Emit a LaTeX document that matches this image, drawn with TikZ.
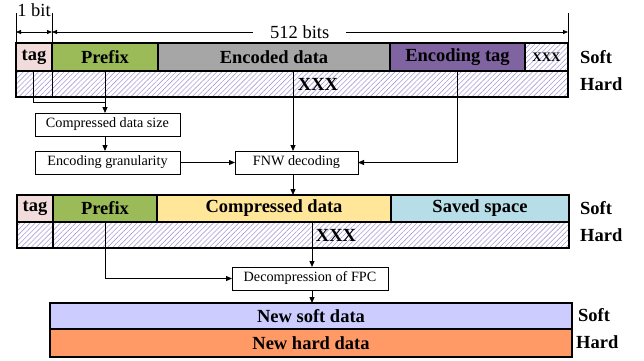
\documentclass[tikz,border=0pt]{standalone}
\usepackage{fontspec}
\setmainfont{Liberation Serif}
\usetikzlibrary{arrows.meta,patterns.meta,positioning,calc}
\definecolor{tagpink}{HTML}{F2DCDB}
\definecolor{prefixgreen}{HTML}{9BBB59}
\definecolor{encgray}{HTML}{A6A6A6}
\definecolor{tagpurple}{HTML}{8064A2}
\definecolor{compyellow}{HTML}{FFE699}
\definecolor{savedblue}{HTML}{B7DEE8}
\definecolor{newsoft}{HTML}{CCCCFF}
\definecolor{newhard}{HTML}{FF9966}
\definecolor{hatchcol}{HTML}{A99BD6}
\newcommand\cellfont{\fontsize{18.5}{18.5}\selectfont\bfseries}
\newcommand\boxfont{\fontsize{14.2}{14.2}\selectfont}
\tikzset{
	cell/.style={postaction={draw, line width=1.1pt}, anchor=north west, inner sep=0pt, outer sep=0pt, font=\cellfont},
	hatched/.style={pattern={Lines[angle=45,distance=3.6pt,line width=0.6pt]}, pattern color=hatchcol},
	stepbox/.style={postaction={draw, line width=1pt}, inner sep=0pt, outer sep=0pt, minimum height=23pt, font=\boxfont},
	side/.style={anchor=west, inner sep=0pt, font=\cellfont},
	link/.style={line width=1pt, -{Triangle[length=6pt,width=5pt]}},
	dim/.style={line width=0.8pt}
}

\begin{document}
\begin{tikzpicture}[x=1pt, y=-1pt]
	\useasboundingbox (0,0) rectangle (644,360);

	% cache line before decoding
	\node[cell, fill=tagpink, minimum width=36pt, minimum height=28pt] (tagA) at (16,43) {tag};
	\node[cell, fill=prefixgreen, minimum width=106pt, minimum height=28pt] (preA) at (tagA.north east) {Prefix};
	\node[cell, fill=encgray, minimum width=232pt, minimum height=28pt] (encA) at (preA.north east) {Encoded data};
	\node[cell, fill=tagpurple, minimum width=135pt, minimum height=28pt] (etagA) at (encA.north east) {Encoding tag};
	\node[cell, hatched, minimum width=43pt, minimum height=28pt, font=\fontsize{13}{13}\selectfont\bfseries] (restA) at (etagA.north east) {XXX};
	\node[cell, hatched, minimum width=552pt, minimum height=26pt] (hardA) at (tagA.south west) {};
	\node[font=\cellfont, inner sep=0pt] (xxxA) at (318,84) {XXX};
	\node[side] (softlA) at (580,57) {Soft};
	\node[side] (hardlA) at (580,84) {Hard};

	% sizes
	\coordinate (d0) at (16,13);
	\coordinate (d1) at (52,13);
	\coordinate (d2) at (568,13);
	\coordinate (a0) at (16,32);
	\coordinate (a1) at (52,32);
	\coordinate (a2) at (568,32);
	\draw[dim] (d0) -- (tagA.north west);
	\draw[dim] (d1) -- (hardA.south -| d1);
	\draw[dim] (d2) -- (restA.north east);
	\draw[dim, {Triangle[length=5pt,width=4pt]}-{Triangle[length=5pt,width=4pt]}] (a0) -- (a1);
	\draw[dim, {Triangle[length=5pt,width=4pt]}-{Triangle[length=5pt,width=4pt]}] (a1) -- (a2);
	\node[fill=white, inner xsep=17pt, inner ysep=1pt, font=\fontsize{18.5}{18.5}\selectfont] (bits) at ($(a1)!0.48!(a2)$) {512 bits};
	\node[font=\fontsize{18.5}{18.5}\selectfont, inner sep=0pt] (onebit) at (34,10) {1 bit};

	% decoding steps
	\node[stepbox, minimum width=145pt] (size) at (107.5,124.5) {Compressed data size};
	\node[stepbox, minimum width=145pt] (gran) at (107.5,162.5) {Encoding granularity};
	\node[stepbox, minimum width=123pt] (fnw) at (296.5,162.5) {FNW decoding};

	\coordinate (sA) at (33,71);
	\coordinate (pA) at (105,71);
	\coordinate (eA) at (293,71);
	\coordinate (gA) at (457,71);
	\coordinate (bendA) at (105,102);
	\draw[line width=1pt] (sA) |- (bendA);
	\draw[link] (pA) -- (pA |- size.north);
	\draw[link] (pA |- size.south) -- (pA |- gran.north);
	\draw[link] (gran) -- (fnw);
	\draw[link] (eA) -- (eA |- fnw.north);
	\draw[link] (gA) |- (fnw.east);

	% cache line after decoding
	\node[cell, fill=tagpink, minimum width=36pt, minimum height=27pt] (tagB) at (17,195) {tag};
	\node[cell, fill=prefixgreen, minimum width=104pt, minimum height=27pt] (preB) at (tagB.north east) {Prefix};
	\node[cell, fill=compyellow, minimum width=234pt, minimum height=27pt] (compB) at (preB.north east) {Compressed data};
	\node[cell, fill=savedblue, minimum width=178pt, minimum height=27pt] (saveB) at (compB.north east) {Saved space};
	\node[cell, hatched, minimum width=552pt, minimum height=26pt] (hardB) at (tagB.south west) {};
	\draw[line width=1.1pt] (tagB.south east) -- (hardB.south -| tagB.south east);
	\node[font=\cellfont, inner sep=0pt] (xxxB) at (336,235) {XXX};
	\node[side] (softlB) at (580,208) {Soft};
	\node[side] (hardlB) at (580,235) {Hard};
	\draw[link] (eA |- fnw.south) -- (eA |- tagB.north);

	% decompression
	\node[stepbox, minimum width=156pt] (dec) at (310,278.5) {Decompression of FPC};
	\coordinate (pB) at (105,222);
	\coordinate (cB) at (312,222);
	\draw[link] (pB) |- (dec.west);
	\draw[link] (cB) -- (cB |- dec.north);

	% new data
	\node[cell, fill=newsoft, minimum width=522pt, minimum height=26pt] (newS) at (50,303) {New soft data};
	\node[cell, fill=newhard, minimum width=522pt, minimum height=28pt] (newH) at (newS.south west) {New hard data};
	\node[side] (softlC) at (578,315) {Soft};
	\node[side] (hardlC) at (576,342) {Hard};
	\draw[link] (cB |- dec.south) -- (cB |- newS.north);
\end{tikzpicture}
\end{document}
